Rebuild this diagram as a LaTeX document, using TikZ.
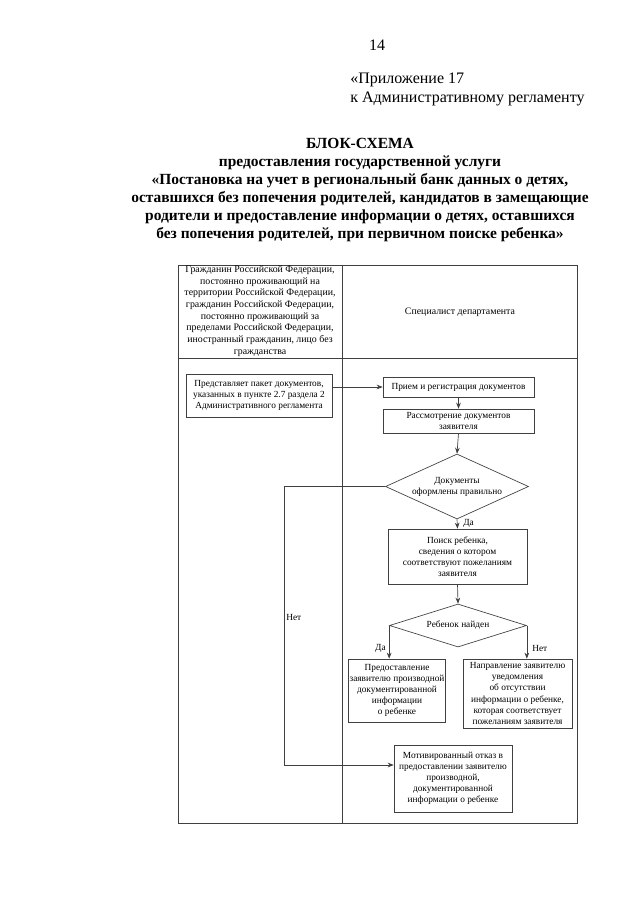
\documentclass[tikz,border=0pt]{standalone}
\usepackage{fontspec}
\setmainfont{Liberation Serif}
\usetikzlibrary{shapes.geometric,arrows.meta}
\tikzset{
  ln/.style={draw=black!75,line width=0.5pt},
  arr/.style={ln,-{Stealth[length=4.5pt,width=3.5pt]}},
  box/.style={ln,rectangle,inner sep=1pt,align=center,font=\fontsize{7}{8.3}\selectfont},
  dia/.style={ln,diamond,inner sep=0pt,align=center,font=\fontsize{7}{8.3}\selectfont},
  lbl/.style={inner sep=0pt,font=\fontsize{7}{8.3}\selectfont},
  hdr/.style={inner sep=0pt,font=\fontsize{12}{14}\selectfont},
}
\begin{document}
\begin{tikzpicture}[x=0.75pt,y=-0.75pt]
\path[fill=white,use as bounding box] (0,0) rectangle (640,905);

% page header
\node[hdr] (pg) at (377,45) {14};
\node[hdr,anchor=west] (app1) at (350,80) {«Приложение 17};
\node[hdr,anchor=west] (app2) at (350,99) {к Административному регламенту};
\node[inner sep=0pt,align=center,font=\fontsize{11.6}{13.5}\bfseries\selectfont] (title) at (360,190)
 {БЛОК-СХЕМА\\
  предоставления государственной услуги\\
  «Постановка на учет в региональный банк данных о детях,\\
  оставшихся без попечения родителей, кандидатов в замещающие\\
  родители и предоставление информации о детях, оставшихся\\
  без попечения родителей, при первичном поиске ребенка»};

% table frame
\draw[ln] (178,265) rectangle (577,823);
\draw[ln] (178,358) -- (577,358);
\draw[ln] (342,265) -- (342,823);

\node[inner sep=0pt,align=center,font=\fontsize{7.4}{8.75}\selectfont] (hl) at (260,311)
 {Гражданин Российской Федерации,\\
  постоянно проживающий на\\
  территории Российской Федерации,\\
  гражданин Российской Федерации,\\
  постоянно проживающий за\\
  пределами Российской Федерации,\\
  иностранный гражданин, лицо без\\
  гражданства};
\node[inner sep=0pt,font=\fontsize{7.4}{8.75}\selectfont] (hr) at (460,312) {Специалист департамента};

% boxes
\node[box,minimum width=109.5pt,minimum height=32.25pt] (b1) at (259,395.5)
 {Представляет пакет документов,\\ указанных в пункте 2.7 раздела 2\\ Административного регламента};
\node[box,minimum width=113.25pt,minimum height=15pt] (b2) at (458.5,387)
 {Прием и регистрация документов};
\node[box,minimum width=113.25pt,minimum height=18pt] (b3) at (458.5,421)
 {Рассмотрение документов\\ заявителя};
\node[dia,minimum width=107.25pt,minimum height=48.75pt,aspect=2.2] (d1) at (457,486.5)
 {Документы\\ оформлены правильно};
\node[box,minimum width=104.25pt,minimum height=41.25pt] (b4) at (457.5,556.5)
 {Поиск ребенка,\\ сведения о котором\\ соответствуют пожеланиям\\ заявителя};
\node[dia,minimum width=102.75pt,minimum height=32.25pt,aspect=3.2] (d2) at (458,625.5)
 {Ребенок найден};
\node[box,minimum width=72pt,minimum height=47.25pt] (b5) at (397,690.5)
 {Предоставление\\ заявителю производной\\ документированной\\ информации\\ о ребенке};
\node[box,minimum width=81.75pt,minimum height=51.75pt] (b6) at (517.5,693.5)
 {Направление заявителю\\ уведомления\\ об отсутствии\\ информации о ребенке,\\ которая соответствует\\ пожеланиям заявителя};
\node[box,minimum width=88.5pt,minimum height=50.25pt] (b7) at (453,778.5)
 {Мотивированный отказ в\\ предоставлении заявителю\\ производной,\\ документированной\\ информации о ребенке};

% connectors
\draw[arr] (b1.east |- b2.west) -- (b2.west);
\draw[arr] (b2.south) -- (b3.north);
\draw[arr] (b3.south) -- (d1.north);
\draw[arr] (d1.south) -- (b4.north);
\draw[arr] (b4.south) -- (d2.north);
\draw[arr] (d2.west) -- (d2.west |- b5.north);
\draw[arr] (d2.east) -- (d2.east |- b6.north);
\coordinate (nk) at (284,486.5);
\coordinate (nb) at (284,765);
\draw[arr] (d1.west) -- (nk) -- (nb) -- (nb -| b7.west);

% labels
\node[lbl,anchor=west] (yes1) at (463,523) {Да};
\node[lbl,anchor=east] (yes2) at (386,648) {Да};
\node[lbl,anchor=west] (no2) at (532,648) {Нет};
\node[lbl,anchor=west] (no1) at (286,617) {Нет};
\end{tikzpicture}
\end{document}
